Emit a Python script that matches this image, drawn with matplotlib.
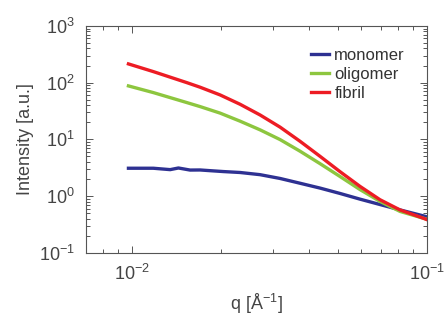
import numpy as np
import matplotlib
matplotlib.use("Agg")
import matplotlib.pyplot as plt

plt.rcParams['font.family'] = ['Liberation Sans', 'DejaVu Sans']
plt.rcParams['mathtext.default'] = 'regular'

# scattering curves
q_mono = [0.00974, 0.01183, 0.01349, 0.01439, 0.01576, 0.01704, 0.01842, 0.02044, 0.02329,
          0.02722, 0.03183, 0.03720, 0.04349, 0.05082, 0.05940, 0.06944, 0.08119, 0.09739, 0.1]
I_mono = [3.09, 3.09, 2.92, 3.12, 2.87, 2.88, 2.8, 2.7, 2.6,
          2.38, 2.04, 1.68, 1.38, 1.11, 0.881, 0.708, 0.569, 0.447, 0.43]

q_olig = [0.00974, 0.01183, 0.01536, 0.01704, 0.01992, 0.02329, 0.02722, 0.03183, 0.03720,
          0.04349, 0.05082, 0.05940, 0.06944, 0.08119, 0.09739, 0.1]
I_olig = [87.5, 66.7, 44.5, 37.8, 29.0, 20.9, 14.7, 9.89, 6.17,
          3.72, 2.21, 1.30, 0.804, 0.535, 0.406, 0.39]

q_fib = [0.00974, 0.01183, 0.01536, 0.01704, 0.01992, 0.02329, 0.02722, 0.03183, 0.03720,
         0.04349, 0.05082, 0.05940, 0.06944, 0.08119, 0.09739, 0.1]
I_fib = [213.8, 156.4, 100.0, 83.0, 60.7, 41.5, 26.9, 16.4, 9.23,
         5.01, 2.69, 1.48, 0.861, 0.569, 0.406, 0.385]

labels = ['monomer', 'oligomer', 'fibril']
colors = ['#2e3192', '#8dc63f', '#ed1c24']

fig = plt.figure(figsize=(4.44, 3.24), dpi=100)
ax = fig.add_axes([0.194, 0.22, 0.767, 0.70])

for q, I, lab, c in zip([q_mono, q_olig, q_fib], [I_mono, I_olig, I_fib], labels, colors):
    ax.plot(q, I, color=c, lw=2.4, label=lab, solid_joinstyle='round')

ax.set_xscale('log')
ax.set_yscale('log')
ax.set_xlim(0.007, 0.1)
ax.set_ylim(0.1, 1000)

gray = '#555555'
for s in ax.spines.values():
    s.set_color(gray)
    s.set_linewidth(0.8)
ax.tick_params(which='both', direction='in', top=True, right=True, colors=gray,
               labelcolor='#444444', labelsize=13, width=0.7)
ax.tick_params(which='major', length=5, pad=8)
ax.tick_params(which='minor', length=3)

ax.set_xlabel('q [Å$^{-1}$]', fontsize=13, color='#444444', labelpad=6)
ax.set_ylabel('Intensity [a.u.]', fontsize=13, color='#444444', labelpad=4)

leg = ax.legend(loc='upper right', frameon=False, fontsize=12, handlelength=1.1,
                handletextpad=0.3, labelspacing=0.25, borderaxespad=0.9)
for t in leg.get_texts():
    t.set_color('#333333')

fig.savefig('out.png', dpi=100)
